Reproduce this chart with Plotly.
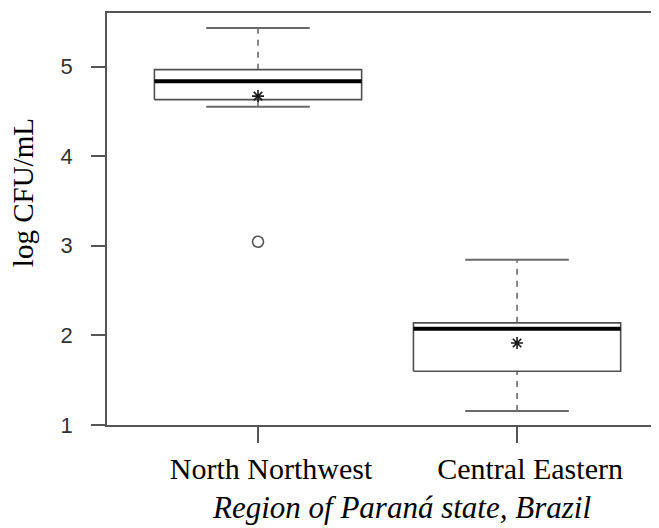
import plotly.graph_objects as go

# ---- data ----
categories = ["North Northwest", "Central Eastern"]
q1 = [4.63, 1.60]
median = [4.835, 2.075]
q3 = [4.965, 2.14]
whisker_low = [4.55, 1.155]
whisker_high = [5.43, 2.845]
means = [4.67, 1.915]
outlier_cat = ["North Northwest"]
outlier_val = [3.045]

yticks = [1, 2, 3, 4, 5]
x_title = "<i>Region of Paraná state, Brazil</i>"
y_title = "log CFU/mL"

# ---- styling constants ----
BOX_HALF = 0.4
CAP_HALF = 0.2
BOX_COLOR = "#505050"
WHISK_COLOR = "#6a6a6a"
AXIS_COLOR = "#555555"
SERIF = "Liberation Serif, Times New Roman, serif"
SANS = "Liberation Sans, Arial, sans-serif"

pos = {c: i + 1 for i, c in enumerate(categories)}

fig = go.Figure()

for i, c in enumerate(categories):
    x0 = pos[c]
    # dashed whiskers
    for a, b in ((q3[i], whisker_high[i]), (whisker_low[i], q1[i])):
        fig.add_trace(go.Scatter(
            x=[x0, x0], y=[a, b], mode="lines",
            line=dict(color=WHISK_COLOR, width=1.6, dash="6px,6px"),
            hoverinfo="skip", showlegend=False))
    # whisker caps
    for v in (whisker_low[i], whisker_high[i]):
        fig.add_trace(go.Scatter(
            x=[x0 - CAP_HALF, x0 + CAP_HALF], y=[v, v], mode="lines",
            line=dict(color=WHISK_COLOR, width=2),
            hoverinfo="skip", showlegend=False))
    # box
    fig.add_trace(go.Scatter(
        x=[x0 - BOX_HALF, x0 + BOX_HALF, x0 + BOX_HALF, x0 - BOX_HALF, x0 - BOX_HALF],
        y=[q1[i], q1[i], q3[i], q3[i], q1[i]], mode="lines",
        fill="toself", fillcolor="white",
        line=dict(color=BOX_COLOR, width=1.6),
        hoverinfo="skip", showlegend=False))
    # median
    fig.add_trace(go.Scatter(
        x=[x0 - BOX_HALF, x0 + BOX_HALF], y=[median[i], median[i]], mode="lines",
        line=dict(color="black", width=4),
        hoverinfo="skip", showlegend=False))

# means as asterisks
fig.add_trace(go.Scatter(
    x=[pos[c] for c in categories], y=means, mode="markers",
    marker=dict(symbol="asterisk-open", size=10, color="#1a1a1a",
                line=dict(color="#1a1a1a", width=1.6)),
    hoverinfo="skip", showlegend=False))

# outliers
fig.add_trace(go.Scatter(
    x=[pos[c] for c in outlier_cat], y=outlier_val, mode="markers",
    marker=dict(symbol="circle-open", size=11, color="#555555",
                line=dict(color="#555555", width=1.6)),
    hoverinfo="skip", showlegend=False))

fig.update_layout(
    width=651, height=520,
    margin=dict(l=99, r=0, t=5, b=103),
    plot_bgcolor="white", paper_bgcolor="white",
    showlegend=False,
    xaxis=dict(
        range=[0.417, 2.548],
        tickvals=[pos[c] for c in categories], ticktext=categories,
        ticks="outside", ticklen=16, tickwidth=1.5, tickcolor=AXIS_COLOR,
        ticklabelshift=13,
        showline=True, linecolor=AXIS_COLOR, linewidth=1.8, mirror=True,
        showgrid=False, zeroline=False,
        tickfont=dict(family=SERIF, size=30, color="black"),
    ),
    yaxis=dict(
        range=[1.0, 5.597],
        tickvals=yticks, ticktext=[str(t) for t in yticks],
        ticks="outside", ticklen=14, tickwidth=1.5, tickcolor=AXIS_COLOR,
        ticklabelstandoff=14,
        showline=True, linecolor=AXIS_COLOR, linewidth=1.8,
        showgrid=False, zeroline=False,
        tickfont=dict(family=SANS, size=22, color="#333333"),
    ),
    annotations=[
        dict(text=x_title, xref="paper", yref="paper", x=0.534, y=-0.248,
             xanchor="center", yanchor="bottom", showarrow=False,
             font=dict(family=SERIF, size=31, color="black")),
        dict(text=y_title, xref="paper", yref="paper", x=-0.152, y=0.563,
             xanchor="center", yanchor="middle", textangle=-90, showarrow=False,
             font=dict(family=SERIF, size=29, color="black")),
    ],
)

fig.write_html("out.html")
